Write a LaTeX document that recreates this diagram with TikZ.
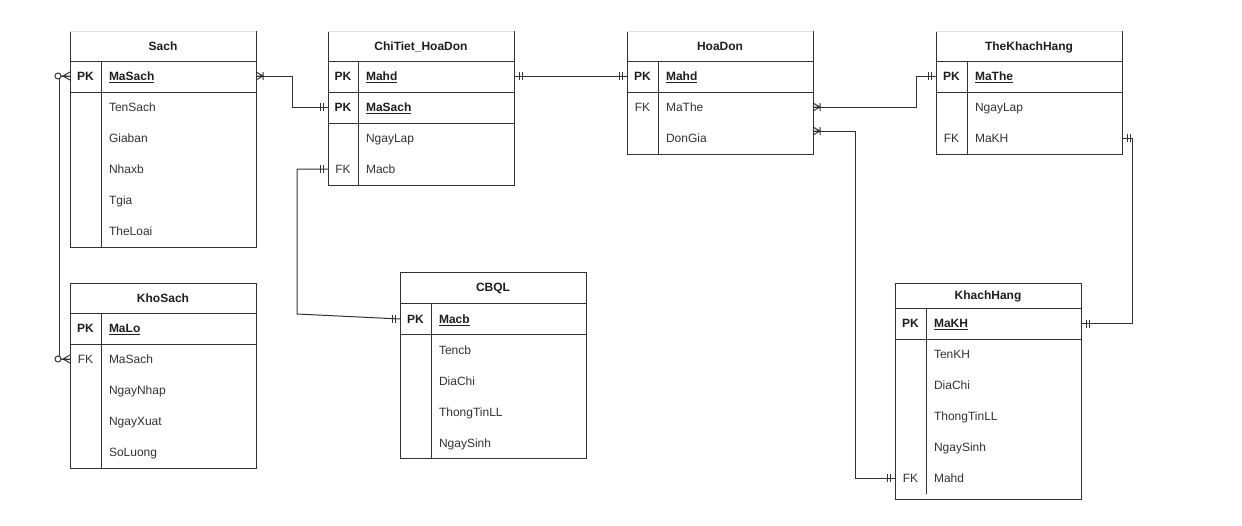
\documentclass[tikz,border=0pt]{standalone}
\usepackage{fontspec}
\setmainfont{Liberation Sans}
\begin{document}
\begin{tikzpicture}[x=1pt,y=-1pt,
  line/.style={draw=black!80, line width=1pt},
  faint/.style={draw=black!12, line width=1pt},
  frame/.style={draw=none, inner sep=0pt, outer sep=0pt, minimum width=186pt},
  txt/.style={inner sep=0pt, outer sep=0pt, text height=8.6pt, text depth=0pt,
    font=\fontsize{12}{14}\selectfont, text=black!80},
  title/.style={txt, font=\fontsize{12}{14}\selectfont\bfseries, text=black!88},
  pklab/.style={txt, font=\fontsize{12}{14}\selectfont\bfseries, text=black!88},
  fklab/.style={txt},
  fld/.style={txt, anchor=west},
  keyfld/.style={fld, font=\fontsize{12}{14}\selectfont\bfseries, text=black!88},
  rel/.style={line, line join=miter},
  bars/.pic={\draw[line] (5,-4)--(5,4) (8,-4)--(8,4);},
  onemany/.pic={\draw[line] (0,-4)--(7,0)--(0,4) (0,0)--(7,0) (7,-4)--(7,4);},
  zeromany/.pic={\draw[line] (0,-4)--(7,0)--(0,4) (0,0)--(9,0);
                 \draw[line, fill=white] (12,0) circle (3);}
]
\useasboundingbox[fill=white] (0,0) rectangle (1242,525);

% ---------- Sach ----------
\node[frame, minimum height=216pt] (sach) at (163,139) {};
\draw[line] (sach.north west) -- (sach.south west) -- (sach.south east) -- (sach.north east);
\draw[faint] (sach.north west) -- (sach.north east);
\draw[line] (sach.west |- 0,61) -- (sach.east |- 0,61);
\draw[line] (sach.west |- 0,92) -- (sach.east |- 0,92);
\draw[line] (101,61) -- (101,247);
\node[title] (sach-t) at (163,46) {Sach};
\node[pklab] (sach-pk) at (85.5,76) {PK};
\node[keyfld] (sach-masach) at (109,76) {\underline{MaSach}};
\node[fld] (sach-tensach) at (109,107) {TenSach};
\node[fld] (sach-giaban) at (109,138) {Giaban};
\node[fld] (sach-nhaxb) at (109,169) {Nhaxb};
\node[fld] (sach-tgia) at (109,200) {Tgia};
\node[fld] (sach-theloai) at (109,231) {TheLoai};

% ---------- ChiTiet_HoaDon ----------
\node[frame, minimum height=154pt] (ct) at (421,108) {};
\draw[line] (ct.north west) -- (ct.south west) -- (ct.south east) -- (ct.north east);
\draw[faint] (ct.north west) -- (ct.north east);
\draw[line] (ct.west |- 0,61) -- (ct.east |- 0,61);
\draw[line] (ct.west |- 0,92) -- (ct.east |- 0,92);
\draw[line] (ct.west |- 0,123) -- (ct.east |- 0,123);
\draw[line] (358,61) -- (358,185);
\node[title] (ct-t) at (421,46) {ChiTiet\_HoaDon};
\node[pklab] (ct-pk1) at (343,76) {PK};
\node[keyfld] (ct-mahd) at (366,76) {\underline{Mahd}};
\node[pklab] (ct-pk2) at (343,107) {PK};
\node[keyfld] (ct-masach) at (366,107) {\underline{MaSach}};
\node[fld] (ct-ngaylap) at (366,138) {NgayLap};
\node[fklab] (ct-fk) at (343,169) {FK};
\node[fld] (ct-macb) at (366,169) {Macb};

% ---------- HoaDon ----------
\node[frame, minimum height=123pt] (hd) at (720,92.5) {};
\draw[line] (hd.north west) -- (hd.south west) -- (hd.south east) -- (hd.north east);
\draw[faint] (hd.north west) -- (hd.north east);
\draw[line] (hd.west |- 0,61) -- (hd.east |- 0,61);
\draw[line] (hd.west |- 0,92) -- (hd.east |- 0,92);
\draw[line] (658,61) -- (658,154);
\node[title] (hd-t) at (720,46) {HoaDon};
\node[pklab] (hd-pk) at (642.5,76) {PK};
\node[keyfld] (hd-mahd) at (666,76) {\underline{Mahd}};
\node[fklab] (hd-fk) at (642.5,107) {FK};
\node[fld] (hd-mathe) at (666,107) {MaThe};
\node[fld] (hd-dongia) at (666,138) {DonGia};
\coordinate (hd-port) at (hd.east |- 0,131);

% ---------- TheKhachHang ----------
\node[frame, minimum height=123pt] (tk) at (1029,92.5) {};
\draw[line] (tk.north west) -- (tk.south west) -- (tk.south east) -- (tk.north east);
\draw[faint] (tk.north west) -- (tk.north east);
\draw[line] (tk.west |- 0,61) -- (tk.east |- 0,61);
\draw[line] (tk.west |- 0,92) -- (tk.east |- 0,92);
\draw[line] (967,61) -- (967,154);
\node[title] (tk-t) at (1029,46) {TheKhachHang};
\node[pklab] (tk-pk) at (951.5,76) {PK};
\node[keyfld] (tk-mathe) at (975,76) {\underline{MaThe}};
\node[fld] (tk-ngaylap) at (975,107) {NgayLap};
\node[fklab] (tk-fk) at (951.5,138) {FK};
\node[fld] (tk-makh) at (975,138) {MaKH};

% ---------- KhoSach ----------
\node[frame, minimum height=185pt] (ks) at (163,375.5) {};
\draw[line] (ks.north west) rectangle (ks.south east);
\draw[line] (ks.west |- 0,313) -- (ks.east |- 0,313);
\draw[line] (ks.west |- 0,344) -- (ks.east |- 0,344);
\draw[line] (101,313) -- (101,468);
\node[title] (ks-t) at (163,298) {KhoSach};
\node[pklab] (ks-pk) at (85.5,328) {PK};
\node[keyfld] (ks-malo) at (109,328) {\underline{MaLo}};
\node[fklab] (ks-fk) at (85.5,359) {FK};
\node[fld] (ks-masach) at (109,359) {MaSach};
\node[fld] (ks-ngaynhap) at (109,390) {NgayNhap};
\node[fld] (ks-ngayxuat) at (109,421) {NgayXuat};
\node[fld] (ks-soluong) at (109,452) {SoLuong};

% ---------- CBQL ----------
\node[frame, minimum height=186pt] (cb) at (493,365) {};
\draw[line] (cb.north west) rectangle (cb.south east);
\draw[line] (cb.west |- 0,303) -- (cb.east |- 0,303);
\draw[line] (cb.west |- 0,334) -- (cb.east |- 0,334);
\draw[line] (431,303) -- (431,458);
\node[title] (cb-t) at (493,287.5) {CBQL};
\node[pklab] (cb-pk) at (415.5,319) {PK};
\node[keyfld] (cb-macb) at (439,319) {\underline{Macb}};
\node[fld] (cb-tencb) at (439,350) {Tencb};
\node[fld] (cb-diachi) at (439,381) {DiaChi};
\node[fld] (cb-ttll) at (439,412) {ThongTinLL};
\node[fld] (cb-ngaysinh) at (439,443) {NgaySinh};

% ---------- KhachHang ----------
\node[frame, minimum height=216pt] (kh) at (988,391) {};
\draw[line] (kh.north west) rectangle (kh.south east);
\draw[line] (kh.west |- 0,308) -- (kh.east |- 0,308);
\draw[line] (kh.west |- 0,339) -- (kh.east |- 0,339);
\draw[line] (926,308) -- (926,494);
\node[title] (kh-t) at (988,295.5) {KhachHang};
\node[pklab] (kh-pk) at (910.5,323.5) {PK};
\node[keyfld] (kh-makh) at (934,323.5) {\underline{MaKH}};
\node[fld] (kh-tenkh) at (934,354) {TenKH};
\node[fld] (kh-diachi) at (934,385) {DiaChi};
\node[fld] (kh-ttll) at (934,416) {ThongTinLL};
\node[fld] (kh-ngaysinh) at (934,447) {NgaySinh};
\node[fklab] (kh-fk) at (910.5,478) {FK};
\node[fld] (kh-mahd) at (934,478) {Mahd};

% ---------- relationships ----------
% Sach -- ChiTiet_HoaDon
\draw[rel] (sach.east |- sach-masach) -- (292,76) -- (292,107) -- (ct.west |- ct-masach);
\pic at (sach.east |- sach-masach) {onemany};
\pic[rotate=180] at (ct.west |- ct-masach) {bars};

% ChiTiet_HoaDon -- HoaDon
\draw[rel] (ct.east |- ct-mahd) -- (hd.west |- hd-mahd);
\pic at (ct.east |- ct-mahd) {bars};
\pic[rotate=180] at (hd.west |- hd-mahd) {bars};

% HoaDon -- TheKhachHang
\draw[rel] (hd.east |- hd-mathe) -- (916,107) -- (916,76) -- (tk.west |- tk-mathe);
\pic at (hd.east |- hd-mathe) {onemany};
\pic[rotate=180] at (tk.west |- tk-mathe) {bars};

% HoaDon -- KhachHang
\draw[rel] (hd-port) -- (855,131) -- (855,478) -- (kh.west |- kh-mahd);
\pic at (hd-port) {onemany};
\pic[rotate=180] at (kh.west |- kh-mahd) {bars};

% TheKhachHang -- KhachHang
\draw[rel] (tk.east |- tk-makh) -- (1132,138) -- (1132,323.5) -- (kh.east |- kh-makh);
\pic at (tk.east |- tk-makh) {bars};
\pic at (kh.east |- kh-makh) {bars};

% ChiTiet_HoaDon -- CBQL
\draw[rel] (ct.west |- ct-macb) -- (297,169) -- (297,314) -- (cb.west |- cb-macb);
\pic[rotate=180] at (ct.west |- ct-macb) {bars};
\pic[rotate=180] at (cb.west |- cb-macb) {bars};

% Sach -- KhoSach
\draw[rel] (sach.west |- sach-masach) -- (59,76) -- (59,359) -- (ks.west |- ks-masach);
\pic[rotate=180] at (sach.west |- sach-masach) {zeromany};
\pic[rotate=180] at (ks.west |- ks-masach) {zeromany};
\end{tikzpicture}
\end{document}
